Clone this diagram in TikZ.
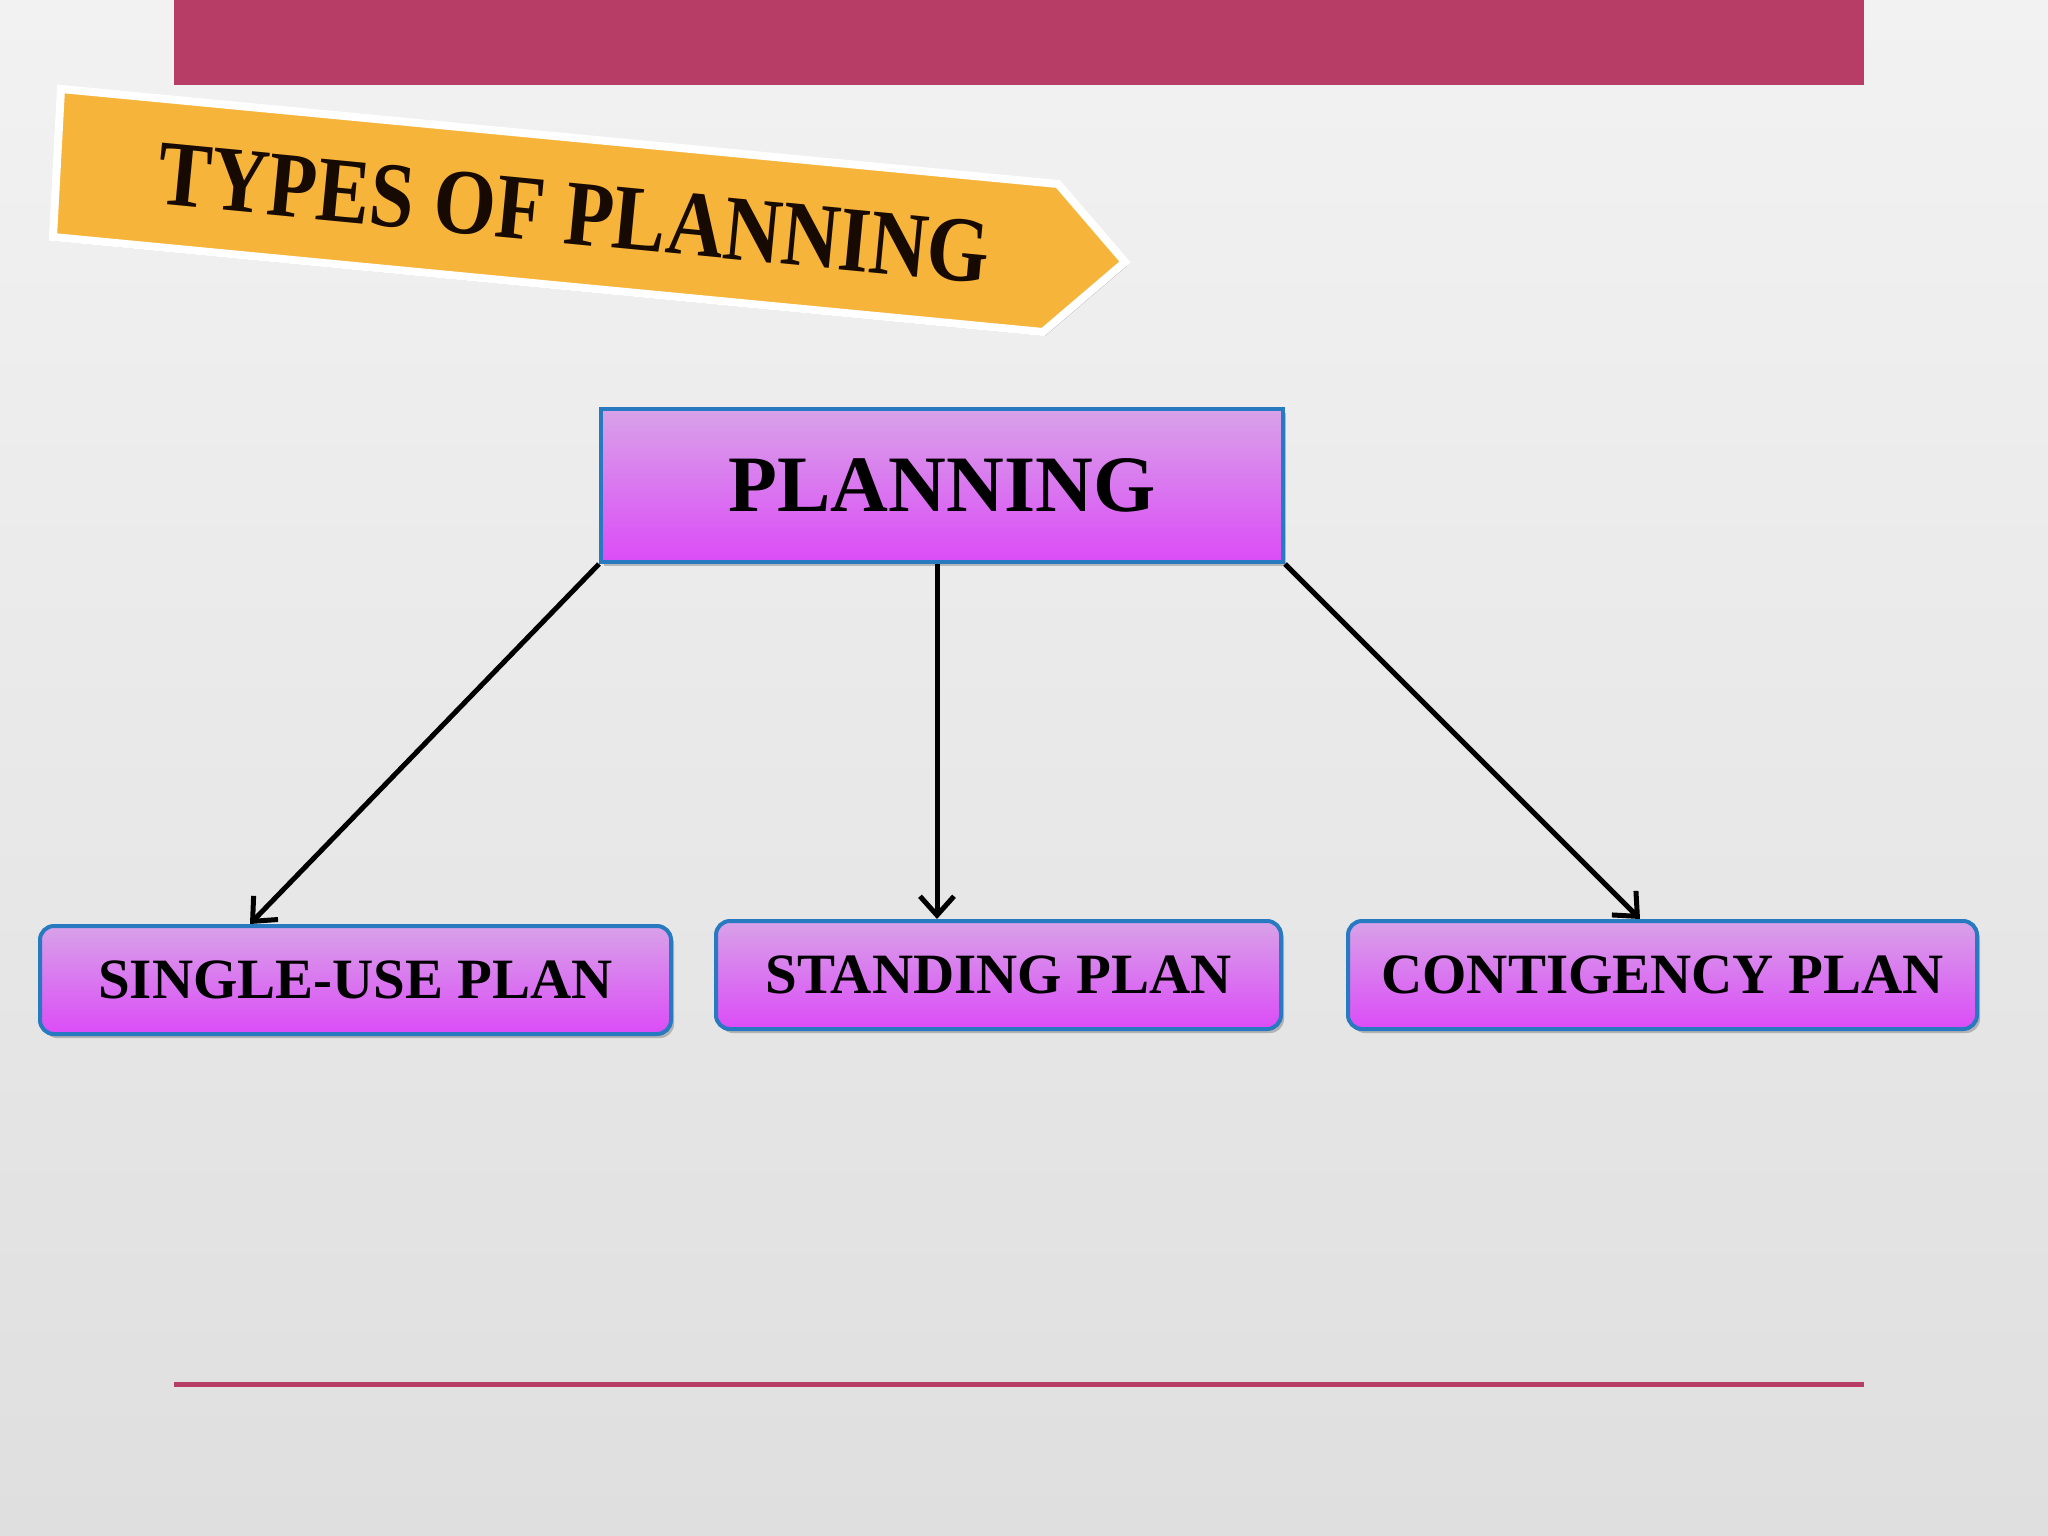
\documentclass[tikz,border=0pt]{standalone}
\usepackage{fontspec}
\setmainfont{Liberation Serif}
\usetikzlibrary{arrows.meta,shadows,calc}
\definecolor{barc}{RGB}{184,61,102}
\definecolor{bgtop}{RGB}{242,242,242}
\definecolor{bgbot}{RGB}{223,223,223}
\definecolor{bannerc}{RGB}{246,180,58}
\definecolor{boxblue}{RGB}{40,122,192}
\definecolor{boxtop}{RGB}{216,162,232}
\definecolor{boxbot}{RGB}{219,76,247}
\definecolor{titlec}{RGB}{22,10,2}
\tikzset{
  boxshadow/.style={drop shadow={shadow xshift=3pt,shadow yshift=-4pt,opacity=0.22,fill=black}},
  mainbox/.style={draw=boxblue,line width=4,top color=boxtop,bottom color=boxbot,
    font=\fontsize{80}{96}\selectfont\bfseries,inner sep=0,boxshadow},
  subbox/.style={draw=boxblue,line width=4,top color=boxtop,bottom color=boxbot,rounded corners=14,
    font=\fontsize{57}{68}\selectfont\bfseries,inner sep=0,minimum height=108,boxshadow},
  titletext/.style={font=\fontsize{86}{100}\selectfont\bfseries,text=titlec,inner sep=0,xscale=0.93,yscale=1.08},
  arr/.style={line width=5,-{Straight Barb[length=19pt,width=34pt]}}
}
\begin{document}
\begin{tikzpicture}[x=1pt,y=1pt]
\useasboundingbox (0,0) rectangle (2048,-1536);
\shade[top color=bgtop,bottom color=bgbot] (0,0) rectangle (2048,-1536);
% top bar and bottom rule
\fill[barc] (174,0) rectangle (1864,-85);
\draw[barc,line width=5] (174,-1384) -- (1864,-1384);
% banner
\filldraw[fill=bannerc,draw=white,line width=8,line join=miter,
  drop shadow={shadow xshift=2pt,shadow yshift=-4pt,opacity=0.25,fill=black}]
  (61,-89) -- (1058,-184) -- (1125,-262) -- (1043,-332) -- (53,-237) -- cycle;
\begin{scope}[shift={(574,-214)},rotate=-5.5,transform shape]
  \node[titletext,anchor=base] (title) at (0,-30) {TYPES OF PLANNING};
\end{scope}
% nodes
\node[mainbox,minimum width=682,minimum height=153] (plan) at (942,-485.5) {PLANNING};
\node[subbox,minimum width=631] (single) at (355.5,-980) {SINGLE-USE PLAN};
\node[subbox,minimum width=565] (standing) at (998.5,-975) {STANDING PLAN};
\node[subbox,minimum width=629] (contig) at (1662.5,-975) {CONTIGENCY PLAN};
% connectors
\draw[arr] (plan.south west) -- ($(single.north west)+(212,0)$);
\draw[arr] ([xshift=-5]plan.south) -- ([xshift=-5]plan.south |- standing.north);
\draw[arr] (plan.south east) -- ($(contig.north west)+(294,0)$);
\end{tikzpicture}
\end{document}
